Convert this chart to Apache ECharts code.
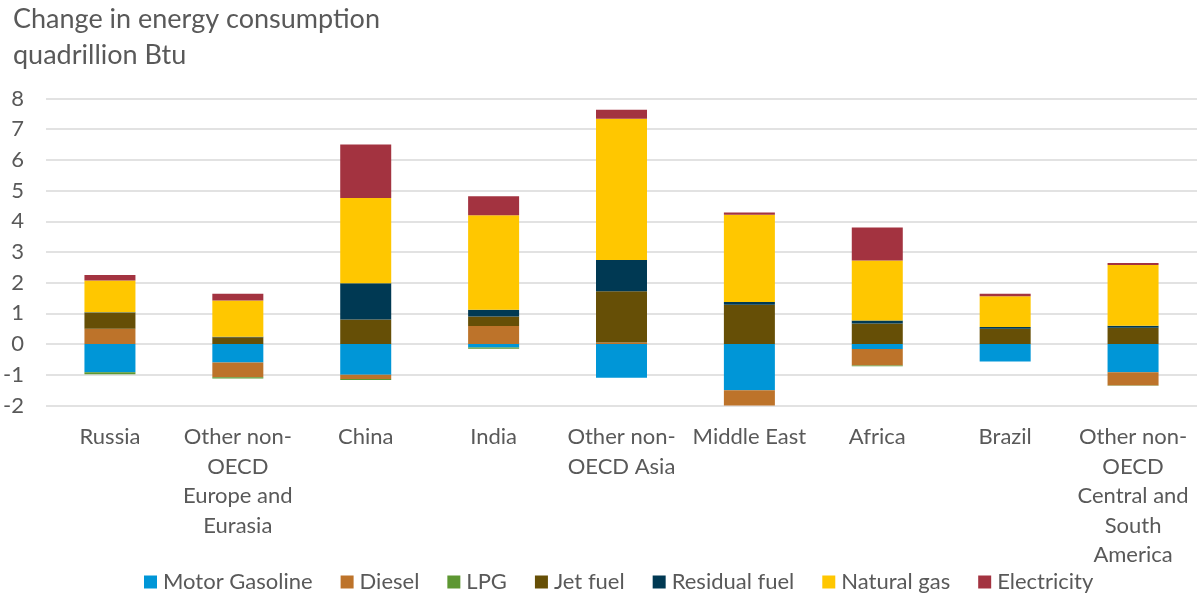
<!DOCTYPE html>
<html>
<head>
<meta charset="utf-8">
<script src="https://cdn.jsdelivr.net/npm/echarts@6/dist/echarts.min.js"></script>
<style>
html,body{margin:0;padding:0;background:#fff;}
#chart{width:1197px;height:596px;}
</style>
</head>
<body>
<div id="chart"></div>
<script>
var categories = ['Russia','Other non-\nOECD\nEurope and\nEurasia','China','India','Other non-\nOECD Asia','Middle East','Africa','Brazil','Other non-\nOECD\nCentral and\nSouth\nAmerica'];
var motorGasoline = [-0.92, -0.60, -1.00, -0.11, -1.10, -1.50, -0.16, -0.57, -0.92];
var diesel        = [0.50, -0.48, -0.14, 0.59, 0.05, -0.50, -0.54, 0.00, -0.43];
var lpg           = [-0.06, -0.04, -0.03, -0.04, 0.00, -0.01, -0.02, 0.00, -0.01];
var jetFuel       = [0.52, 0.22, 0.80, 0.31, 1.67, 1.28, 0.67, 0.50, 0.53];
var residualFuel  = [0.02, 0.02, 1.18, 0.22, 1.02, 0.09, 0.10, 0.06, 0.07];
var naturalGas    = [1.03, 1.18, 2.78, 3.08, 4.60, 2.84, 1.95, 1.00, 1.98];
var electricity   = [0.18, 0.22, 1.74, 0.62, 0.29, 0.08, 1.08, 0.08, 0.06];
var yTicks = [-2, -1, 0, 1, 2, 3, 4, 5, 6, 7, 8];

var seriesDefs = [
  ['Motor Gasoline', motorGasoline, '#0096D7'],
  ['Diesel', diesel, '#BD732A'],
  ['LPG', lpg, '#5D9732'],
  ['Jet fuel', jetFuel, '#664F06'],
  ['Residual fuel', residualFuel, '#003953'],
  ['Natural gas', naturalGas, '#FFC700'],
  ['Electricity', electricity, '#A33340']
];

var FONT = 'Lato, "Open Sans", sans-serif';
var chart = echarts.init(document.getElementById('chart'), null, {renderer: 'canvas'});
chart.setOption({
  animation: false,
  backgroundColor: '#ffffff',
  title: {
    text: 'Change in energy consumption\nquadrillion Btu',
    left: 8, top: -4,
    textStyle: {fontFamily: FONT, fontSize: 27, fontWeight: 'normal', color: '#595959', lineHeight: 36}
  },
  legend: {
    top: 566, left: 139,
    icon: 'rect', itemWidth: 13, itemHeight: 13, itemGap: 28,
    textStyle: {fontFamily: FONT, fontSize: 22, color: '#595959', padding: [0, 0, 0, 1]},
    data: seriesDefs.map(function (d) { return d[0]; })
  },
  grid: {left: 46, top: 98.5, width: 1156, bottom: 190.5, containLabel: false},
  xAxis: {
    type: 'category',
    data: categories,
    axisLine: {show: false, onZero: false},
    axisTick: {show: false},
    axisLabel: {fontFamily: FONT, fontSize: 22, color: '#595959', lineHeight: 29.5, margin: 17, interval: 0, align: 'center'}
  },
  yAxis: {
    type: 'value',
    min: yTicks[0], max: yTicks[yTicks.length - 1], interval: 1,
    axisLine: {show: false},
    axisTick: {show: false},
    splitLine: {lineStyle: {color: '#d9d9d9', width: 1.5}},
    axisLabel: {fontFamily: FONT, fontSize: 22, color: '#595959', margin: 22}
  },
  series: seriesDefs.map(function (d) {
    return {
      name: d[0], type: 'bar', stack: 'total', data: d[1],
      barWidth: 51,
      itemStyle: {color: d[2]}
    };
  })
});
</script>
</body>
</html>
